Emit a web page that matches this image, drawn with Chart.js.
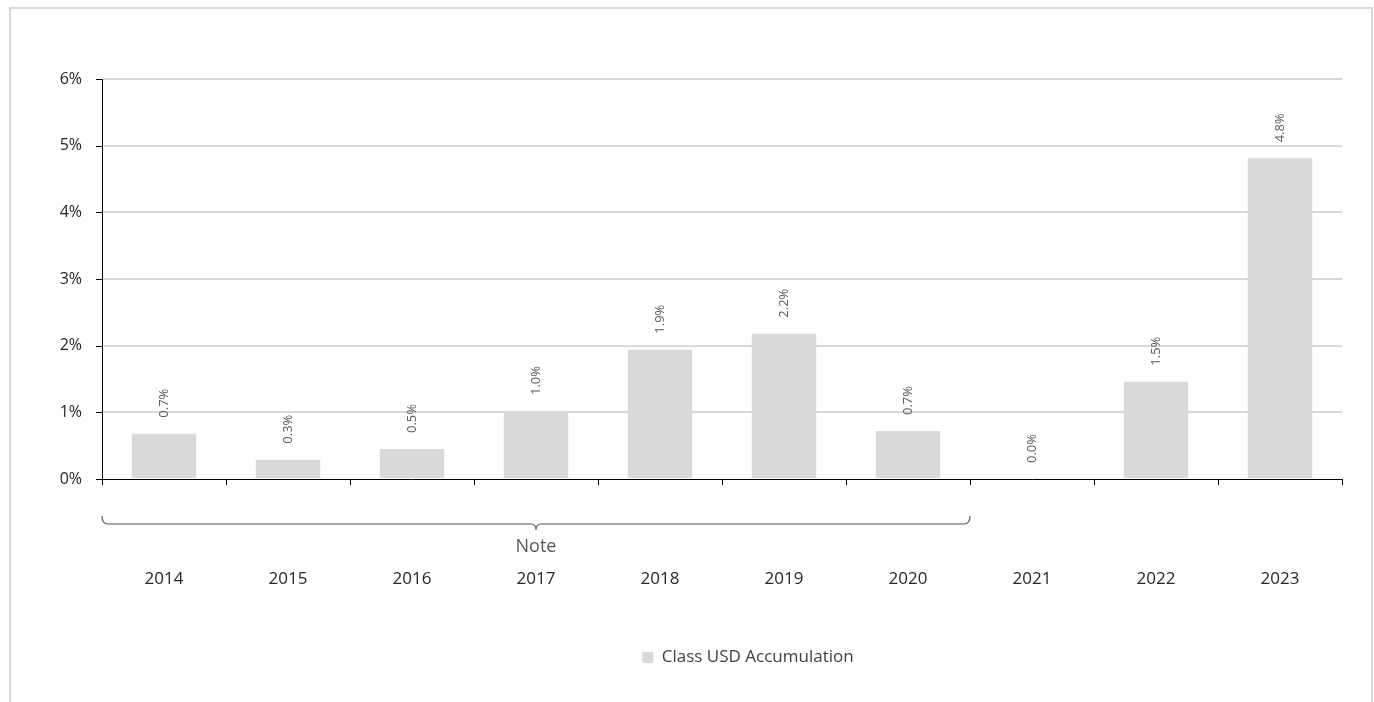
<!DOCTYPE html>
<html>
<head>
<meta charset="utf-8">
<script src="https://cdn.jsdelivr.net/npm/chart.js@4.4.1/dist/chart.umd.min.js"></script>
<style>
    html, body { margin: 0; padding: 0; background: #fff; }
    #wrap { position: relative; width: 1374px; height: 702px; overflow: hidden; }
    #frame { position: absolute; left: 9px; top: 7px; width: 1360px; height: 700px;
             border: 2px solid #d9d9d9; border-bottom: none; pointer-events: none; }
</style>
</head>
<body>
<div id="wrap">
    <canvas id="chart" width="1374" height="702"></canvas>
    <div id="frame"></div>
</div>
<script>
// Chart data
const years = ['2014', '2015', '2016', '2017', '2018', '2019', '2020', '2021', '2022', '2023'];
const accumulation = [0.68, 0.29, 0.45, 1.02, 1.94, 2.18, 0.72, 0.0, 1.46, 4.81];
const valueLabels = ['0.7%', '0.3%', '0.5%', '1.0%', '1.9%', '2.2%', '0.7%', '0.0%', '1.5%', '4.8%'];
const yTicks = [0, 1, 2, 3, 4, 5, 6];
const seriesName = 'Class USD Accumulation';
const noteText = 'Note';
const noteFrom = 0;   // first year covered by the note bracket
const noteTo = 6;     // last year covered

const FONT = '"Open Sans", "Noto Sans", sans-serif';

// Rotated value labels above each bar
const barLabels = {
    id: 'barLabels',
    afterDatasetsDraw(chart) {
        const ctx = chart.ctx;
        const meta = chart.getDatasetMeta(0);
        ctx.save();
        ctx.fillStyle = '#595959';
        ctx.font = '13px ' + FONT;
        ctx.textAlign = 'left';
        ctx.textBaseline = 'middle';
        meta.data.forEach(function(bar, i) {
            ctx.save();
            ctx.translate(bar.x, bar.y - 16);
            ctx.rotate(-Math.PI / 2);
            ctx.fillText(valueLabels[i], 0, 0);
            ctx.restore();
        });
        ctx.restore();
    }
};

// Black tick marks on both axes + the note bracket under the x axis
const axisExtras = {
    id: 'axisExtras',
    afterLayout(chart) {
        // legend sits a bit right of centre in the original
        chart.legend.left += 142;
    },
    afterDraw(chart) {
        const ctx = chart.ctx;
        const x = chart.scales.x;
        const y = chart.scales.y;
        const area = chart.chartArea;
        ctx.save();
        ctx.strokeStyle = '#000';
        ctx.lineWidth = 1;
        ctx.beginPath();
        yTicks.forEach(function(v) {
            const py = Math.round(y.getPixelForValue(v)) + 0.5;
            ctx.moveTo(area.left - 6, py);
            ctx.lineTo(area.left, py);
        });
        const step = x.getPixelForValue(1) - x.getPixelForValue(0);
        for (let i = 0; i <= years.length; i++) {
            const px = Math.round(x.getPixelForValue(i) - step / 2) + 0.5;
            ctx.moveTo(px, area.bottom);
            ctx.lineTo(px, area.bottom + 6);
        }
        ctx.stroke();

        // bracket
        const x0 = x.getPixelForValue(noteFrom) - step / 2;
        const x1 = x.getPixelForValue(noteTo) + step / 2;
        const mid = (x0 + x1) / 2;
        const by = area.bottom + 45;
        ctx.strokeStyle = '#595959';
        ctx.lineWidth = 1.2;
        ctx.beginPath();
        ctx.moveTo(x0, by - 8);
        ctx.quadraticCurveTo(x0, by, x0 + 6, by);
        ctx.lineTo(mid - 5, by);
        ctx.quadraticCurveTo(mid, by, mid, by + 6);
        ctx.quadraticCurveTo(mid, by, mid + 5, by);
        ctx.lineTo(x1 - 6, by);
        ctx.quadraticCurveTo(x1, by, x1, by - 8);
        ctx.stroke();

        ctx.fillStyle = '#595959';
        ctx.font = '18px ' + FONT;
        ctx.textAlign = 'center';
        ctx.textBaseline = 'middle';
        ctx.fillText(noteText, mid, by + 23);
        ctx.restore();
    }
};

new Chart(document.getElementById('chart'), {
    type: 'bar',
    data: {
        labels: years,
        datasets: [{
            label: seriesName,
            data: accumulation,
            backgroundColor: '#d9d9d9',
            borderWidth: 0,
            barPercentage: 0.52,
            categoryPercentage: 1.0
        }]
    },
    options: {
        responsive: false,
        animation: false,
        layout: {
            padding: { left: 12, right: 32, top: 79, bottom: 26 }
        },
        plugins: {
            legend: {
                position: 'bottom',
                labels: {
                    boxWidth: 11,
                    boxHeight: 11,
                    color: '#404040',
                    font: { family: FONT, size: 17 }
                }
            },
            tooltip: { enabled: false }
        },
        scales: {
            x: {
                grid: { display: false, drawTicks: false },
                border: { color: '#000', width: 1 },
                ticks: {
                    color: '#262626',
                    padding: 90,
                    font: { family: FONT, size: 17 }
                },
                afterFit(scale) {
                    scale.height = 160;
                    // the big label gap must not eat into the side margins
                    scale.paddingLeft = 0;
                    scale.paddingRight = 0;
                }
            },
            y: {
                min: 0,
                max: 6,
                grid: {
                    color: function(c) { return c.tick.value === 0 ? 'rgba(0,0,0,0)' : '#d9d9d9'; },
                    lineWidth: 2,
                    drawTicks: false
                },
                border: { color: '#000', width: 1 },
                ticks: {
                    stepSize: 1,
                    color: '#262626',
                    padding: 20,
                    font: { family: FONT, size: 16 },
                    callback: function(v) { return v + '%'; }
                },
                afterFit(scale) { scale.width = 90; }
            }
        }
    },
    plugins: [barLabels, axisExtras]
});
</script>
</body>
</html>
